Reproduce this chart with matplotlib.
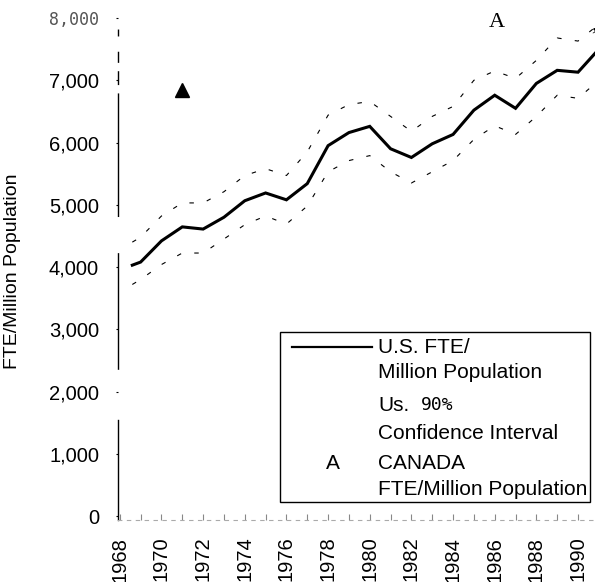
import matplotlib.pyplot as plt
from matplotlib.patches import Rectangle
from matplotlib.lines import Line2D

plt.rcParams['font.family'] = ['Liberation Sans', 'DejaVu Sans']

# data
years = [1968.6, 1969, 1970, 1971, 1972, 1973, 1974, 1975, 1976, 1977, 1978, 1979,
         1980, 1981, 1982, 1983, 1984, 1985, 1986, 1987, 1988, 1989, 1990, 1991]
us_fte = [4030, 4080, 4420, 4645, 4610, 4800, 5065, 5190, 5080, 5340, 5950, 6160,
          6260, 5900, 5760, 5980, 6130, 6520, 6760, 6550, 6950, 7160, 7130, 7500]
ci_upper = [4400, 4480, 4820, 5030, 5030, 5210, 5470, 5580, 5470, 5850, 6440, 6610,
            6660, 6420, 6180, 6420, 6580, 7000, 7150, 7030, 7320, 7680, 7630, 7900]
ci_lower = [3720, 3800, 4040, 4225, 4225, 4450, 4680, 4820, 4690, 4980, 5530, 5710,
            5790, 5530, 5350, 5530, 5710, 6050, 6270, 6130, 6420, 6760, 6710, 7000]
canada_years = [1971]
canada_fte = [6840]

ytick_vals = [0, 1000, 2000, 3000, 4000, 5000, 6000, 7000, 8000]
xtick_years = list(range(1968, 1991, 2))

fig = plt.figure(figsize=(5.95, 5.82), dpi=100)
ax = fig.add_axes([0.198, 0.1065, 0.802, 0.8625])

ax.plot(years, us_fte, color='black', lw=2.2, solid_joinstyle='miter')
ax.plot(years, ci_upper, color='black', lw=0.8, linestyle=(0, (4, 12)))
ax.plot(years, ci_lower, color='black', lw=0.8, linestyle=(0, (4, 12)))
ax.plot(canada_years, canada_fte, linestyle='none', marker='^', color='black', markersize=10)

ax.set_xlim(1967.904, 1990.815)
ax.set_ylim(-64, 8000)

# scanned artefacts at the top
ax.text(1986.1, 7930, 'A', family='Liberation Serif', fontsize=16, ha='center', va='center',
        clip_on=False)
ax.text(1990.75, 7880, ',', family='Liberation Serif', fontsize=16, ha='center', va='center',
        clip_on=False)

# axes styling
for side in ['top', 'right']:
    ax.spines[side].set_visible(False)
ax.spines['bottom'].set_color('#aaaaaa')
ax.spines['bottom'].set_linewidth(0.8)
ax.spines['bottom'].set_linestyle((0, (3, 5)))
# broken left spine like the scan
ax.spines['left'].set_linewidth(1.0)
ax.spines['left'].set_linestyle((0, (72, 37, 83, 27, 88, 7, 9, 7, 7, 12, 4, 30)))

ax.set_yticks(ytick_vals)
ax.set_yticklabels([f'{v:,}' for v in ytick_vals])
ax.tick_params(axis='y', length=1.5, width=0.8, pad=12, labelsize=14.5)
lab8 = ax.get_yticklabels()[-1]
lab8.set_fontfamily('DejaVu Sans Mono')
lab8.set_fontsize(12)
lab8.set_color('#555555')

ax.set_xticks(xtick_years)
ax.set_xticklabels([str(y) for y in xtick_years], rotation=90)
ax.set_xticks(list(range(1969, 1991, 2)), minor=True)
ax.tick_params(axis='x', which='both', direction='in', length=4, width=0.8,
               color='#888888', pad=12, labelsize=14.5)

ax.set_ylabel('FTE/Million Population', fontsize=14)
ax.yaxis.set_label_coords(-0.203, 0.496)

# legend box drawn by hand
ax.add_patch(Rectangle((0.340, 0.036), 0.650, 0.3385, transform=ax.transAxes,
                       facecolor='white', edgecolor='black', lw=1.0, zorder=5))
ax.add_line(Line2D([0.365, 0.532], [0.3446, 0.3446], transform=ax.transAxes,
                   color='black', lw=1.6, zorder=6))
tx = 0.545
fs = 15
ax.text(tx, 0.3446, 'U.S. FTE/', transform=ax.transAxes, fontsize=fs, va='center', zorder=6)
ax.text(tx, 0.2948, 'Million Population', transform=ax.transAxes, fontsize=fs,
        va='center', zorder=6)
ax.text(tx, 0.2291, 'Us.', transform=ax.transAxes, fontsize=fs, va='center', zorder=6)
ax.text(0.636, 0.2291, '90%', transform=ax.transAxes, fontsize=13,
        family='DejaVu Sans Mono', va='center', zorder=6)
ax.text(tx, 0.1733, 'Confidence Interval', transform=ax.transAxes, fontsize=fs,
        va='center', zorder=6)
ax.text(0.4507, 0.1135, 'A', transform=ax.transAxes, fontsize=fs, ha='center',
        va='center', zorder=6)
ax.text(tx, 0.1135, 'CANADA', transform=ax.transAxes, fontsize=fs, va='center', zorder=6)
ax.text(tx, 0.0598, 'FTE/Million Population', transform=ax.transAxes, fontsize=fs,
        va='center', zorder=6)

fig.savefig('out.png', dpi=100)
